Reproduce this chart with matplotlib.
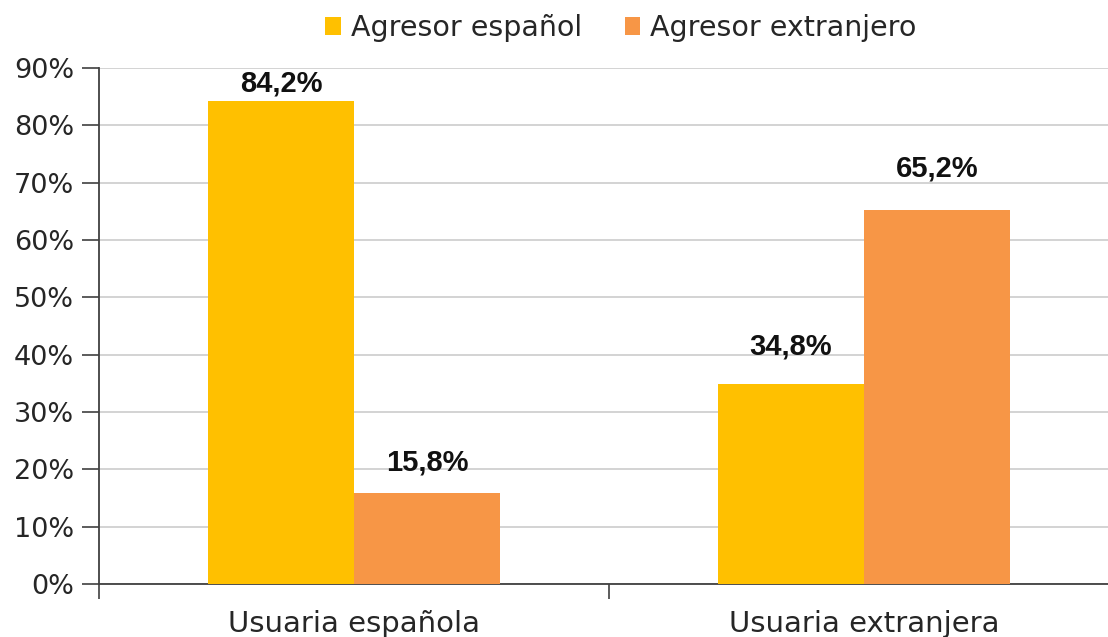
import matplotlib
matplotlib.use("Agg")
import matplotlib.pyplot as plt
from matplotlib.ticker import FixedLocator, FuncFormatter
from matplotlib.patches import Patch
import numpy as np

categories = ["Usuaria española", "Usuaria extranjera"]
series_names = ["Agresor español", "Agresor extranjero"]
agresor_espanol = [84.2, 34.8]
agresor_extranjero = [15.8, 65.2]
labels_espanol = ["84,2%", "34,8%"]
labels_extranjero = ["15,8%", "65,2%"]
yticks = [0, 10, 20, 30, 40, 50, 60, 70, 80, 90]

colors = ["#FFC000", "#F79646"]
text_color = "#262626"

W, H = 1108, 637
fig = plt.figure(figsize=(W / 100, H / 100), dpi=100)
left, right, bottom, top = 99, 1119, 584, 68
ax = fig.add_axes([left / W, 1 - bottom / H, (right - left) / W, (bottom - top) / H])

x = np.arange(len(categories))
bw = 0.2863
b1 = ax.bar(x - bw / 2, agresor_espanol, bw, color=colors[0], zorder=3)
b2 = ax.bar(x + bw / 2, agresor_extranjero, bw, color=colors[1], zorder=3)

ax.set_xlim(-0.5, 1.5)
ax.set_ylim(0, 90)

font_main = "DejaVu Sans"
ax.set_yticks(yticks)
ax.yaxis.set_major_formatter(FuncFormatter(lambda v, p: f"{int(v)}%"))
ax.tick_params(axis="y", direction="out", length=12, width=1.2, color="#404040",
               labelsize=19.5, labelcolor=text_color, pad=6)
for t in ax.get_yticklabels():
    t.set_fontfamily(font_main)

ax.set_xticks(x)
ax.set_xticklabels(categories, fontsize=21, color=text_color, family=font_main)
ax.tick_params(axis="x", which="major", length=0, pad=19)
ax.xaxis.set_minor_locator(FixedLocator([-0.5, 0.5, 1.5]))
ax.tick_params(axis="x", which="minor", direction="out", length=11, width=1.2, color="#404040")

ax.grid(axis="y", color="#D0D0D0", linewidth=1.3, zorder=0)
ax.set_axisbelow(True)
for s in ["top", "right"]:
    ax.spines[s].set_visible(False)
for s in ["left", "bottom"]:
    ax.spines[s].set_color("#404040")
    ax.spines[s].set_linewidth(1.3)

gaps1 = [3, 17]
gaps2 = [12, 20]
for rect, lab, g in zip(b1, labels_espanol, gaps1):
    ax.annotate(lab, (rect.get_x() + rect.get_width() / 2, rect.get_height()),
                xytext=(0, g), textcoords="offset points", ha="center", va="bottom",
                fontsize=21, fontweight="bold", family="Liberation Sans", color="#111111")
for rect, lab, g in zip(b2, labels_extranjero, gaps2):
    ax.annotate(lab, (rect.get_x() + rect.get_width() / 2, rect.get_height()),
                xytext=(0, g), textcoords="offset points", ha="center", va="bottom",
                fontsize=21, fontweight="bold", family="Liberation Sans", color="#111111")

handles = [Patch(facecolor=c, edgecolor="none") for c in colors]
leg = fig.legend(handles, series_names, loc="center", bbox_to_anchor=(621 / W, 1 - 28 / H),
                 ncol=2, frameon=False, prop={"family": font_main, "size": 20.5},
                 handlelength=0.55, handleheight=0.55, handletextpad=0.35, columnspacing=1.5)
for t in leg.get_texts():
    t.set_color(text_color)

fig.savefig("out.png", dpi=100)
